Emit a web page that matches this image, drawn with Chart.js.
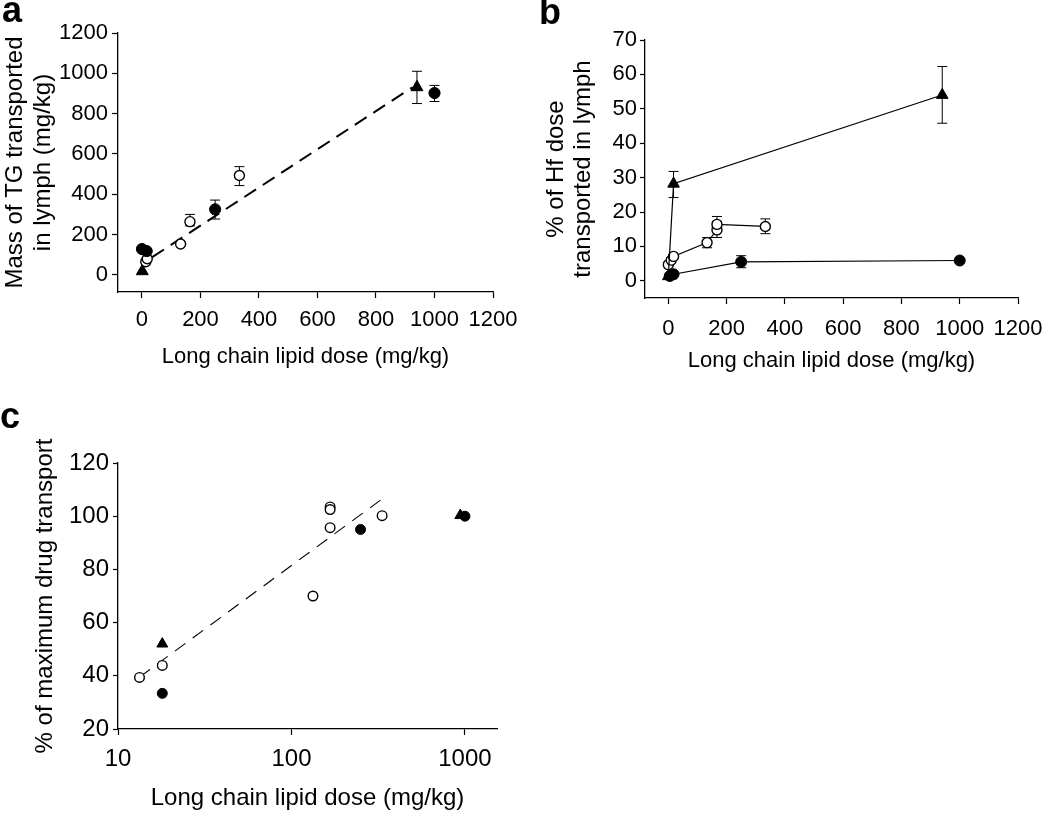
<!DOCTYPE html>
<html>
<head>
<meta charset="utf-8">
<script src="https://cdn.jsdelivr.net/npm/chart.js@4.4.1/dist/chart.umd.min.js"></script>
<style>
  body { margin: 0; background: #fff; width: 1050px; height: 814px; position: relative; overflow: hidden; }
  canvas { position: absolute; }
  .tag { position: absolute; font: bold 36px/36px "Liberation Sans", Arial, sans-serif; color: #000; }
</style>
</head>
<body>
<canvas id="panelA" width="545" height="385" style="left:0;top:0"></canvas>
<canvas id="panelB" width="560" height="385" style="left:525px;top:0"></canvas>
<canvas id="panelC" width="520" height="414" style="left:0;top:400px"></canvas>
<div class="tag" style="left:2px;top:-8px">a</div>
<div class="tag" style="left:539px;top:-6px">b</div>
<div class="tag" style="left:0px;top:398px">c</div>
<script>
const FONT = "'Liberation Sans', Arial, sans-serif";

// panel a - TG mass in lymph
const aFilledX = [0, 16, 250, 1000];
const aFilledY = [128, 118, 325, 902];
const aFilledLo = [null, null, 277, 860];
const aFilledHi = [null, null, 371, 940];
const aOpenX = [13, 18, 132, 164, 333];
const aOpenY = [65, 80, 153, 264, 493];
const aOpenLo = [null, null, null, 243, 443];
const aOpenHi = [null, null, null, 300, 537];
const aTriX = [1, 940];
const aTriY = [18, 931];
const aTriLo = [null, 850];
const aTriHi = [null, 1010];
const aFitX = [35, 925];
const aFitY = [88, 931];
const aXTicks = [0, 200, 400, 600, 800, 1000, 1200];
const aYTicks = [0, 200, 400, 600, 800, 1000, 1200];

// panel b - % of Hf dose in lymph
const bTriX = [0, 18, 940];
const bTriY = [1.3, 28.2, 54];
const bTriLo = [null, 24.2, 45.8];
const bTriHi = [null, 31.8, 62.3];
const bOpenX = [0, 10, 18, 133, 167, 167, 333];
const bOpenY = [4.7, 6.0, 7.1, 11.1, 14.8, 16.4, 15.8];
const bOpenLo = [null, null, null, 9.6, 12.6, 14.6, 13.7];
const bOpenHi = [null, null, null, 12.6, 17.0, 18.7, 18.0];
const bFilledX = [5, 18, 250, 1000];
const bFilledY = [1.4, 1.9, 5.5, 5.9];
const bFilledLo = [null, null, 3.8, null];
const bFilledHi = [null, null, 7.3, null];
const bXTicks = [0, 200, 400, 600, 800, 1000, 1200];
const bYTicks = [0, 10, 20, 30, 40, 50, 60, 70];

// panel c - % of maximum drug transport (log dose)
const cOpenX = [13.3, 18, 133, 167, 167, 167, 333];
const cOpenY = [39.4, 43.9, 70, 103.5, 102.5, 95.7, 100.2];
const cFilledX = [18, 250, 1000];
const cFilledY = [33.4, 95, 100];
const cTriX = [18, 940];
const cTriY = [52, 100.3];
const cFitX = [13.3, 333];
const cFitY = [39.5, 106.5];
const cXTicks = [10, 100, 1000];
const cYTicks = [20, 40, 60, 80, 100, 120];

const pts = (xs, ys) => xs.map((x, i) => ({ x: x, y: ys[i] }));

// draws vertical error bars under the markers
const errorBars = {
    id: "errorBars",
    beforeDatasetsDraw(chart) {
        const ctx = chart.ctx;
        const sx = chart.scales.x;
        const sy = chart.scales.y;
        ctx.save();
        ctx.strokeStyle = "#000";
        ctx.lineWidth = 1;
        chart.data.datasets.forEach((ds) => {
            if (!ds.errLo) return;
            ds.data.forEach((p, i) => {
                if (ds.errLo[i] == null) return;
                const px = sx.getPixelForValue(p.x);
                const y1 = sy.getPixelForValue(ds.errLo[i]);
                const y2 = sy.getPixelForValue(ds.errHi[i]);
                ctx.beginPath();
                ctx.moveTo(px, y1);
                ctx.lineTo(px, y2);
                ctx.moveTo(px - 5, y1);
                ctx.lineTo(px + 5, y1);
                ctx.moveTo(px - 5, y2);
                ctx.lineTo(px + 5, y2);
                ctx.stroke();
            });
        });
        ctx.restore();
    },
};

function marker(kind, size) {
    if (kind == "tri") {
        return { pointStyle: "triangle", pointRadius: size + 1.5, pointBackgroundColor: "#000", pointBorderColor: "#000", pointBorderWidth: 1 };
    }
    return {
        pointStyle: "circle",
        pointRadius: size,
        pointBackgroundColor: kind == "open" ? "#fff" : "#000",
        pointBorderColor: "#000",
        pointBorderWidth: kind == "open" ? 1.4 : 1,
    };
}

function axis(o) {
    return {
        type: o.type || "linear",
        min: o.min,
        max: o.max,
        afterBuildTicks: (s) => { s.ticks = o.ticks.map((v) => ({ value: v })); },
        afterFit: (s) => {
            if (o.width) s.width = o.width;
            if (o.height) s.height = o.height;
        },
        grid: { drawOnChartArea: false, drawTicks: true, tickLength: o.tickLength, tickWidth: 1.2, tickColor: "#000" },
        border: { display: true, color: "#000", width: 1.3 },
        ticks: {
            color: "#000",
            padding: o.tickPad,
            autoSkip: false,
            maxRotation: 0,
            font: { family: FONT, size: o.tickSize },
            callback: (v) => String(v),
        },
        title: {
            display: true,
            text: o.title,
            color: "#000",
            font: { family: FONT, size: o.titleSize, lineHeight: o.titleLh || 1.2 },
            padding: o.titlePad,
        },
    };
}

function baseOptions(padding, scales) {
    return {
        responsive: false,
        animation: false,
        devicePixelRatio: 1,
        layout: { padding: padding },
        plugins: { legend: { display: false }, tooltip: { enabled: false } },
        scales: scales,
    };
}

// ---- panel a
new Chart(document.getElementById("panelA").getContext("2d"), {
    type: "scatter",
    data: {
        datasets: [
            { data: pts(aFilledX, aFilledY), errLo: aFilledLo, errHi: aFilledHi, ...marker("filled", 5.6) },
            { data: pts(aOpenX, aOpenY), errLo: aOpenLo, errHi: aOpenHi, ...marker("open", 5) },
            { data: pts(aTriX, aTriY), errLo: aTriLo, errHi: aTriHi, ...marker("tri", 5.4) },
            { data: pts(aFitX, aFitY), showLine: true, pointRadius: 0, borderColor: "#000", borderWidth: 2, borderDash: [14, 8], order: 5 },
        ],
    },
    options: baseOptions({ left: 0, top: 33, right: 52, bottom: 0 }, {
        x: axis({ min: -82, max: 1200, ticks: aXTicks, height: 93, tickLength: 6, tickPad: 9, tickSize: 22,
            title: "Long chain lipid dose (mg/kg)", titleSize: 22, titlePad: { top: 0, bottom: 15 } }),
        y: axis({ min: -85, max: 1200, ticks: aYTicks, width: 118, tickLength: 6, tickPad: 4, tickSize: 22,
            title: ["Mass of TG transported", "in lymph (mg/kg)"], titleSize: 24, titleLh: 1.17, titlePad: { top: 1, bottom: 0 } }),
    }),
    plugins: [errorBars],
});

// ---- panel b
new Chart(document.getElementById("panelB").getContext("2d"), {
    type: "scatter",
    data: {
        datasets: [
            { data: pts(bTriX, bTriY), errLo: bTriLo, errHi: bTriHi, showLine: true, borderColor: "#000", borderWidth: 1.2, ...marker("tri", 5.2) },
            { data: pts(bOpenX, bOpenY), errLo: bOpenLo, errHi: bOpenHi, showLine: true, borderColor: "#000", borderWidth: 1.2, ...marker("open", 5) },
            { data: pts(bFilledX, bFilledY), errLo: bFilledLo, errHi: bFilledHi, showLine: true, borderColor: "#000", borderWidth: 1.2, ...marker("filled", 5.5) },
        ],
    },
    options: baseOptions({ left: 0, top: 40, right: 67, bottom: 0 }, {
        x: axis({ min: -80, max: 1200, ticks: bXTicks, height: 87, tickLength: 6, tickPad: 12, tickSize: 22,
            title: "Long chain lipid dose (mg/kg)", titleSize: 22, titlePad: { top: 0, bottom: 11 } }),
        y: axis({ min: -5, max: 70, ticks: bYTicks, width: 120, tickLength: 5, tickPad: 3, tickSize: 22,
            title: ["% of Hf dose", "transported in lymph"], titleSize: 24, titleLh: 1.11, titlePad: { top: 18, bottom: 0 } }),
    }),
    plugins: [errorBars],
});

// ---- panel c
new Chart(document.getElementById("panelC").getContext("2d"), {
    type: "scatter",
    data: {
        datasets: [
            { data: pts(cOpenX, cOpenY), ...marker("open", 4.8) },
            { data: pts(cFilledX, cFilledY), ...marker("filled", 5) },
            { data: pts(cTriX, cTriY), ...marker("tri", 4.8) },
            { data: pts(cFitX, cFitY), showLine: true, pointRadius: 0, borderColor: "#000", borderWidth: 1.1, borderDash: [13, 9], order: 5 },
        ],
    },
    options: baseOptions({ left: 0, top: 63, right: 23, bottom: 0 }, {
        x: axis({ type: "logarithmic", min: 10, max: 1530, ticks: cXTicks, height: 85, tickLength: 6, tickPad: 10, tickSize: 24,
            title: "Long chain lipid dose (mg/kg)", titleSize: 24, titlePad: { top: 0, bottom: 1 } }),
        y: axis({ min: 20, max: 120, ticks: cYTicks, width: 118, tickLength: 5, tickPad: 4, tickSize: 24,
            title: "% of maximum drug transport", titleSize: 24, titlePad: { top: 31, bottom: 0 } }),
    }),
    plugins: [errorBars],
});
</script>
</body>
</html>
